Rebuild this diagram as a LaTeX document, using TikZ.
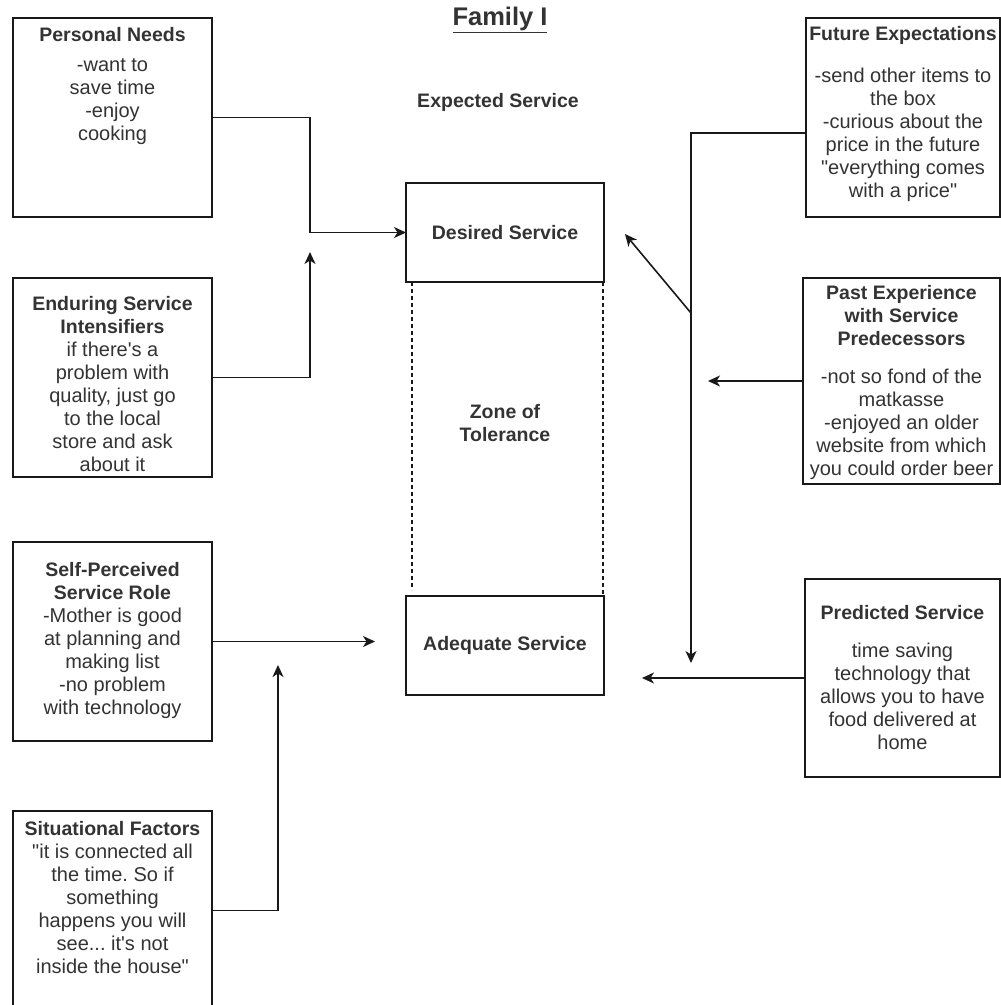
\documentclass[tikz,border=0pt]{standalone}
\usepackage{fontspec}
\setmainfont{Liberation Sans}[Ligatures=TeXOff]
\usetikzlibrary{arrows.meta}
\frenchspacing
\newcommand{\hd}[1]{{\fontsize{19.5}{23}\selectfont\bfseries #1}}
\begin{document}
\begin{tikzpicture}[x=1pt,y=-1pt,
  every node/.style={inner sep=0pt, outer sep=0pt},
  box/.style={draw=black!90, line width=1.6pt, fill=white},
  txt/.style={align=center, text=black!80, font=\fontsize{20}{23}\selectfont},
  head/.style={txt, font=\fontsize{19.5}{23}\selectfont\bfseries},
  conn/.style={draw=black!90, line width=1.6pt},
  arr/.style={conn, -{Stealth[length=12pt,width=11pt,inset=3.5pt]}},
  zone/.style={draw=black!90, line width=1.3pt, dash pattern=on 4pt off 3pt}]

\useasboundingbox (0,0) rectangle (1001,1005);
\clip (0,0) rectangle (1001,1005);

% heading
\node[txt, font=\fontsize{25.5}{30}\selectfont\bfseries] (title) at (500,20) {\underline{Family I}};
\node[head] (expected) at (498,102) {Expected Service};

% service levels and the zone between them
\node[box, minimum width=198pt, minimum height=99pt] (ds) at (505,232.5) {};
\node[head] at (ds.center) {Desired Service};
\node[box, minimum width=198pt, minimum height=99pt] (as) at (505,645.5) {};
\node[head] at (as.center) {Adequate Service};
\draw[zone] ([xshift=6pt]ds.south west) -- ([xshift=6pt,yshift=6pt]as.north west);
\draw[zone] ([xshift=-1pt]ds.south east) -- ([xshift=-1pt]as.north east);
\node[head] (zot) at (505,423) {Zone of\\Tolerance};

% left-hand factors
\node[box, minimum width=199pt, minimum height=199pt] (pn) at (112.5,117.5) {};
\node[head] at (112.5,35) {Personal Needs};
\node[txt] at (112.5,102) {-want to\\save time\\-enjoy\\cooking};

\node[box, minimum width=199pt, minimum height=199pt] (esi) at (112.5,377.5) {};
\node[txt] at (112.5,384) {\hd{Enduring Service}\\\hd{Intensifiers}\\if there's a\\problem with\\quality, just go\\to the local\\store and ask\\about it};

\node[box, minimum width=199pt, minimum height=199pt] (spr) at (112.5,641.5) {};
\node[txt] at (112.5,640) {\hd{Self-Perceived}\\\hd{Service Role}\\-Mother is good\\at planning and\\making list\\-no problem\\with technology};

\node[box, minimum width=199pt, minimum height=199pt] (sf) at (112.5,910.5) {};
\node[txt] at (112.5,898) {\hd{Situational Factors}\\"it is connected all\\the time. So if\\something\\happens you will\\see... it's not\\inside the house"};

% right-hand factors
\node[box, minimum width=194pt, minimum height=199pt] (fe) at (903,117.5) {};
\node[head] at (903,35) {Future Expectations};
\node[txt] at (903,134.5) {-send other items to\\the box\\-curious about the\\price in the future\\"everything comes\\with a price"};

\node[box, minimum width=197pt, minimum height=206pt] (pe) at (901.5,381) {};
\node[head] at (901.5,315.5) {Past Experience\\with Service\\Predecessors};
\node[txt] at (901.5,424) {-not so fond of the\\matkasse\\-enjoyed an older\\website from which\\you could order beer};

\node[box, minimum width=195pt, minimum height=198pt] (ps) at (902.5,678) {};
\node[head] at (902.5,613) {Predicted Service};
\node[txt] at (902.5,696) {time saving\\technology that\\allows you to have\\food delivered at\\home};

% connector end points
\coordinate (jn) at (310,232.5);
\coordinate (jnup) at (310,252);
\coordinate (jsp) at (375,641.5);
\coordinate (jsup) at (278,665);
\coordinate (feo) at (806,133);
\coordinate (trunk) at (691,663);
\coordinate (dgo) at (691,313);
\coordinate (dgt) at (625,234);
\coordinate (pet) at (708,381);
\coordinate (pst) at (642,678);

% connectors
\draw[arr] (pn.east) -| (jn) -- (ds.west);
\draw[arr] (esi.east) -| (jnup);
\draw[arr] (spr.east) -- (jsp);
\draw[arr] (sf.east) -| (jsup);
\draw[arr] (feo) -| (trunk);
\draw[arr] (dgo) -- (dgt);
\draw[arr] (pe.west) -- (pet);
\draw[arr] (ps.west) -- (pst);
\end{tikzpicture}
\end{document}
